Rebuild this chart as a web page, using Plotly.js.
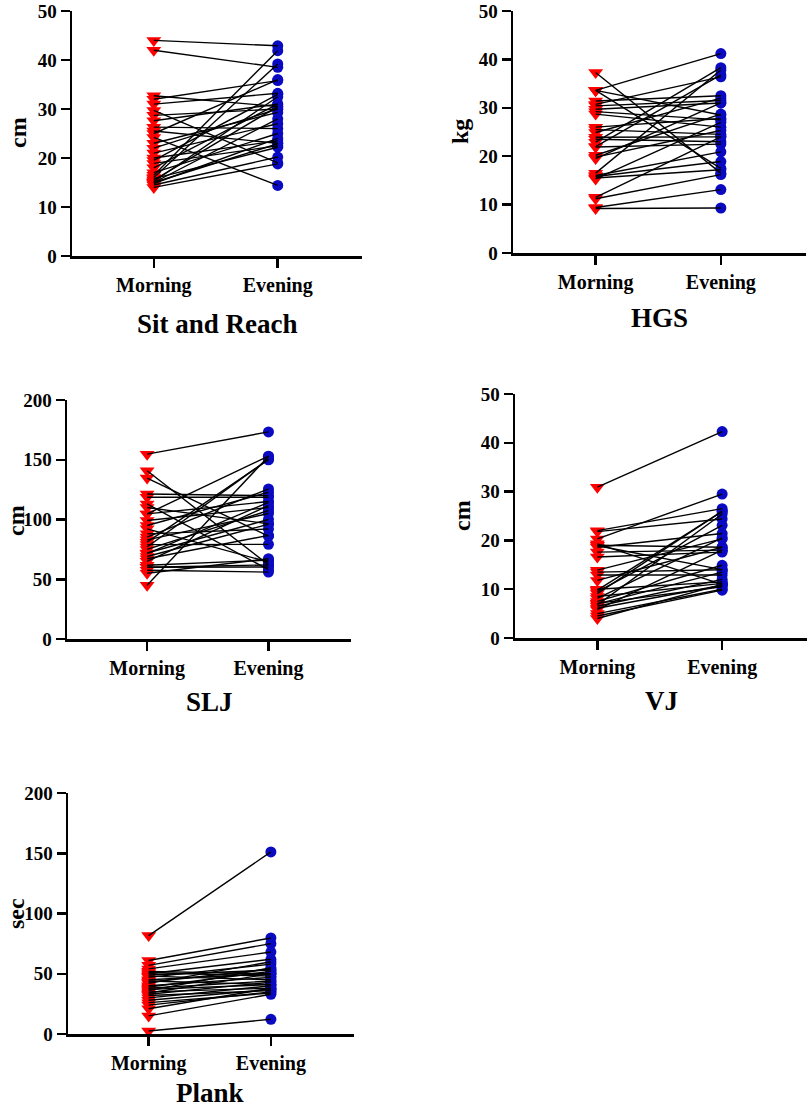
<!DOCTYPE html>
<html>
<head>
<meta charset="utf-8">
<script src="https://cdn.plot.ly/plotly-3.0.1.min.js"></script>
<style>html,body{margin:0;padding:0;background:#fff;}#chart{width:809px;height:1109px;}</style>
</head>
<body>
<div id="chart"></div>
<script>
// ---------- DATA ----------
const groups = ['Morning', 'Evening'];
const panelTitles = ['Sit and Reach', 'HGS', 'SLJ', 'VJ', 'Plank'];
const unitTitles = ['cm', 'kg', 'cm', 'cm', 'sec'];

const sitReachMorning = [44.0, 42.0, 32.7, 32.0, 31.0, 29.7, 28.7, 27.6, 26.3, 25.5, 25.0, 24.2, 23.0, 22.0, 21.0, 20.0, 19.5, 18.9, 18.0, 17.0, 16.5, 16.0, 15.8, 15.5, 15.0, 15.0, 14.8, 14.5, 14.0, 15.2];
const sitReachEvening = [42.9, 38.5, 30.5, 35.8, 33.2, 19.0, 30.0, 31.0, 26.0, 23.0, 36.0, 14.4, 29.3, 30.0, 27.0, 23.5, 33.0, 22.5, 31.0, 25.0, 41.9, 39.2, 22.2, 30.5, 22.9, 28.0, 24.0, 20.2, 18.8, 32.5];

const hgsMorning = [37.3, 33.6, 33.6, 33.6, 31.4, 30.7, 30.4, 29.7, 29.2, 28.7, 26.0, 25.5, 24.9, 23.9, 23.5, 22.9, 22.0, 21.9, 20.2, 19.8, 19.5, 16.5, 16.0, 15.8, 15.5, 15.3, 11.5, 11.2, 9.4, 9.2];
const hgsEvening = [16.5, 41.2, 17.5, 28.5, 32.5, 36.4, 31.5, 31.0, 27.5, 26.0, 27.8, 24.5, 32.0, 24.0, 23.0, 38.3, 36.8, 22.5, 28.7, 25.3, 31.0, 37.8, 20.9, 18.9, 17.2, 27.0, 24.0, 16.2, 13.1, 9.3];

const sljMorning = [154.7, 140.8, 134.7, 121.4, 118.6, 113.0, 110.0, 104.7, 104.7, 99.2, 95.0, 92.2, 88.0, 85.3, 81.0, 79.0, 77.0, 75.0, 71.4, 69.0, 67.2, 65.0, 61.7, 60.0, 57.5, 55.0, 45.0, 72.0, 83.0, 60.0];
const sljEvening = [173.3, 62.0, 86.0, 120.0, 118.6, 58.0, 96.4, 153.0, 115.0, 110.0, 122.8, 64.4, 92.0, 125.6, 150.0, 79.2, 150.5, 107.5, 114.4, 96.0, 86.7, 111.7, 66.0, 60.3, 56.0, 67.2, 152.8, 100.0, 105.0, 62.0];

const vjMorning = [30.9, 22.0, 21.8, 20.3, 19.3, 19.0, 18.9, 18.6, 17.6, 16.6, 13.9, 13.5, 12.9, 11.8, 9.8, 9.5, 9.1, 8.5, 8.1, 7.5, 7.1, 6.8, 6.5, 6.1, 5.8, 5.0, 4.5, 4.0, 7.0, 10.0];
const vjEvening = [42.3, 26.5, 24.4, 29.5, 11.0, 18.6, 14.0, 21.4, 18.0, 17.6, 20.3, 14.0, 12.9, 18.6, 25.9, 23.1, 26.0, 11.2, 20.5, 14.9, 10.5, 25.4, 12.0, 10.8, 18.0, 10.0, 9.8, 11.0, 13.5, 11.5];

const plankMorning = [81.7, 61.0, 57.0, 54.0, 52.0, 51.0, 50.0, 49.0, 48.0, 47.0, 45.0, 44.0, 43.0, 42.0, 40.0, 39.0, 38.0, 37.0, 36.0, 35.0, 34.0, 33.0, 32.0, 30.0, 28.0, 26.0, 24.0, 21.0, 15.0, 2.5];
const plankEvening = [151.1, 79.7, 75.0, 68.0, 50.0, 48.0, 62.0, 53.0, 45.0, 58.0, 50.0, 41.0, 54.0, 60.0, 47.0, 52.0, 44.0, 41.0, 55.0, 38.0, 50.0, 43.0, 36.0, 40.0, 37.0, 34.0, 35.0, 38.0, 33.0, 12.2];

const yMax = [50, 50, 200, 50, 200];
const yStep = [10, 10, 50, 10, 50];

const morningSeries = [sitReachMorning, hgsMorning, sljMorning, vjMorning, plankMorning];
const eveningSeries = [sitReachEvening, hgsEvening, sljEvening, vjEvening, plankEvening];

// ---------- LAYOUT (pixel boxes) ----------
const W = 809, H = 1109;
const boxes = [
  {x0: 72, x1: 362, y0: 11, y1: 256, tx: 217, ty: 324, ux: 18, uy: 133},
  {x0: 513, x1: 806, y0: 11, y1: 253, tx: 659, ty: 318, ux: 460, uy: 132},
  {x0: 67, x1: 351, y0: 400, y1: 639, tx: 209, ty: 702, ux: 16, uy: 520},
  {x0: 515, x1: 807, y0: 394, y1: 638, tx: 661, ty: 701, ux: 462, uy: 516},
  {x0: 68, x1: 354, y0: 793, y1: 1034, tx: 210, ty: 1093, ux: 16, uy: 913}
];

const serif = 'Liberation Serif, Times New Roman, serif';
const traces = [];
const layout = {
  width: W, height: H,
  margin: {l: 0, r: 0, t: 0, b: 0},
  paper_bgcolor: '#fff', plot_bgcolor: '#fff',
  showlegend: false,
  annotations: []
};

boxes.forEach((b, i) => {
  const n = i + 1;
  const xa = 'x' + (n === 1 ? '' : n);
  const ya = 'y' + (n === 1 ? '' : n);
  const m = morningSeries[i], e = eveningSeries[i];

  traces.push({
    x: m.map(() => 0), y: m, xaxis: xa, yaxis: ya, type: 'scatter', mode: 'markers',
    cliponaxis: false,
    marker: {symbol: 'triangle-down', size: 13, color: '#ff0000', line: {width: 0}}
  });
  traces.push({
    x: e.map(() => 1), y: e, xaxis: xa, yaxis: ya, type: 'scatter', mode: 'markers',
    cliponaxis: false,
    marker: {symbol: 'circle', size: 11, color: '#0a0ac2', line: {width: 0}}
  });
  const lx = [], ly = [];
  m.forEach((v, k) => { lx.push(0, 1, null); ly.push(v, e[k], null); });
  traces.push({
    x: lx, y: ly, xaxis: xa, yaxis: ya, type: 'scatter', mode: 'lines',
    cliponaxis: false, connectgaps: false,
    line: {color: '#000', width: 1.4}
  });

  const tv = [];
  for (let v = 0; v <= yMax[i]; v += yStep[i]) tv.push(v);

  layout['xaxis' + (n === 1 ? '' : n)] = {
    domain: [b.x0 / W, b.x1 / W],
    anchor: ya,
    range: [-0.66, 1.68],
    tickmode: 'array', tickvals: [0, 1], ticktext: groups,
    showline: true, linecolor: '#000', linewidth: 2.5,
    ticks: 'outside', ticklen: 9, tickwidth: 2.5, tickcolor: '#000',
    showgrid: false, zeroline: false, ticklabeloverflow: 'allow',
    tickfont: {family: serif, size: 20, color: '#000', weight: 'bold'}
  };
  layout['yaxis' + (n === 1 ? '' : n)] = {
    domain: [1 - b.y1 / H, 1 - b.y0 / H],
    anchor: xa,
    range: [0, yMax[i]],
    tickmode: 'array', tickvals: tv, ticktext: tv.map(String),
    showline: true, linecolor: '#000', linewidth: 2.5,
    ticks: 'outside', ticklen: 9, tickwidth: 2.5, tickcolor: '#000',
    showgrid: false, zeroline: false, ticklabeloverflow: 'allow',
    tickfont: {family: serif, size: 19, color: '#000', weight: 'bold'}
  };

  layout.annotations.push({
    xref: 'paper', yref: 'paper', x: b.tx / W, y: 1 - b.ty / H,
    xanchor: 'center', yanchor: 'middle', showarrow: false,
    text: panelTitles[i],
    font: {family: serif, size: 27, color: '#000', weight: 'bold'}
  });
  layout.annotations.push({
    xref: 'paper', yref: 'paper', x: b.ux / W, y: 1 - b.uy / H,
    xanchor: 'center', yanchor: 'middle', showarrow: false, textangle: -90,
    text: unitTitles[i],
    font: {family: serif, size: 24, color: '#000', weight: 'bold'}
  });
});

Plotly.newPlot('chart', traces, layout, {staticPlot: true, displayModeBar: false});
</script>
</body>
</html>
